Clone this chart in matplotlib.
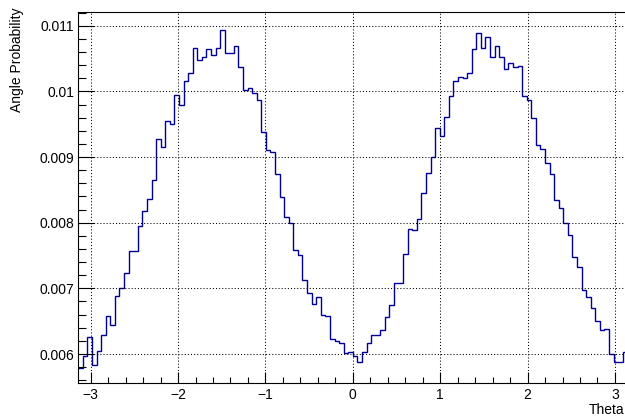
import numpy as np
import matplotlib
matplotlib.use("Agg")
import matplotlib.pyplot as plt
from matplotlib.ticker import FixedLocator, MultipleLocator

plt.rcParams['font.family'] = ['Liberation Sans', 'DejaVu Sans']

# histogram of theta, 120 bins over [-pi, pi]
n_bins = 120
prob = [
    0.005792, 0.005970, 0.006254, 0.005832, 0.006046, 0.006289, 0.006574, 0.006442,
    0.006883, 0.007005, 0.007239, 0.007563, 0.007563, 0.007944, 0.008178, 0.008355,
    0.008655, 0.009279, 0.009157, 0.009553, 0.009503, 0.009949, 0.009797, 0.010157,
    0.010279, 0.010665, 0.010477, 0.010523, 0.010650, 0.010558, 0.010665, 0.010929,
    0.010584, 0.010584, 0.010685, 0.010371, 0.010015, 0.010051, 0.009970, 0.009863,
    0.009376, 0.009112, 0.009081, 0.008741, 0.008386, 0.008086, 0.008000, 0.007584,
    0.007503, 0.007122, 0.006929, 0.006761, 0.006863, 0.006599, 0.006579, 0.006228,
    0.006193, 0.006162, 0.006015, 0.006030, 0.005970, 0.005878, 0.006025, 0.006162,
    0.006284, 0.006284, 0.006360, 0.006558, 0.006746, 0.007081, 0.007081, 0.007518,
    0.007909, 0.007888, 0.008051, 0.008457, 0.008756, 0.009000, 0.009442, 0.009315,
    0.009614, 0.009924, 0.010157, 0.010223, 0.010208, 0.010274, 0.010645, 0.010893,
    0.010655, 0.010832, 0.010528, 0.010685, 0.010518, 0.010335, 0.010426, 0.010365,
    0.010391, 0.009924, 0.009873, 0.009599, 0.009178, 0.009127, 0.008914, 0.008746,
    0.008340, 0.008228, 0.007990, 0.007817, 0.007472, 0.007325, 0.006970, 0.006868,
    0.006695, 0.006503, 0.006370, 0.006380, 0.006000, 0.005883, 0.005883, 0.006025,
]

xticks = [-3, -2, -1, 0, 1, 2, 3]
yticks = [0.006, 0.007, 0.008, 0.009, 0.010, 0.011]
ytick_labels = ['0.006', '0.007', '0.008', '0.009', '0.01', '0.011']

edges = np.linspace(-np.pi, np.pi, n_bins + 1)

fig = plt.figure(figsize=(6.25, 4.19), dpi=100)
ax = fig.add_axes([0.1253, 0.0852, 0.8784, 0.8854])

ax.stairs(prob, edges, baseline=None, color='#000099', linewidth=1.0)

ax.set_xlim(-np.pi, np.pi)
ax.set_ylim(0.005554, 0.011204)

ax.xaxis.set_major_locator(FixedLocator(xticks))
ax.xaxis.set_minor_locator(MultipleLocator(0.2))
ax.yaxis.set_major_locator(FixedLocator(yticks))
ax.yaxis.set_minor_locator(MultipleLocator(0.0002))
ax.set_yticklabels(ytick_labels)

ax.tick_params(axis='both', which='both', direction='in', top=False, right=False,
               labelsize=10, width=0.8, color='black')
ax.tick_params(axis='x', which='major', length=8, pad=3.5)
ax.tick_params(axis='x', which='minor', length=4)
ax.tick_params(axis='y', which='major', length=11.5, pad=3)
ax.tick_params(axis='y', which='minor', length=5.8)

ax.grid(True, which='major', color='black', linestyle=(0, (1, 2)), linewidth=0.75)
for s in ax.spines.values():
    s.set_linewidth(0.8)

fig.text(0.9995, 1 - 410 / 419, 'Theta', ha='right', va='center', fontsize=10)
fig.text(17 / 625, 1 - 7 / 419, 'Angle Probability', rotation=90,
         ha='center', va='top', fontsize=10)

fig.savefig('out.png', dpi=100)
